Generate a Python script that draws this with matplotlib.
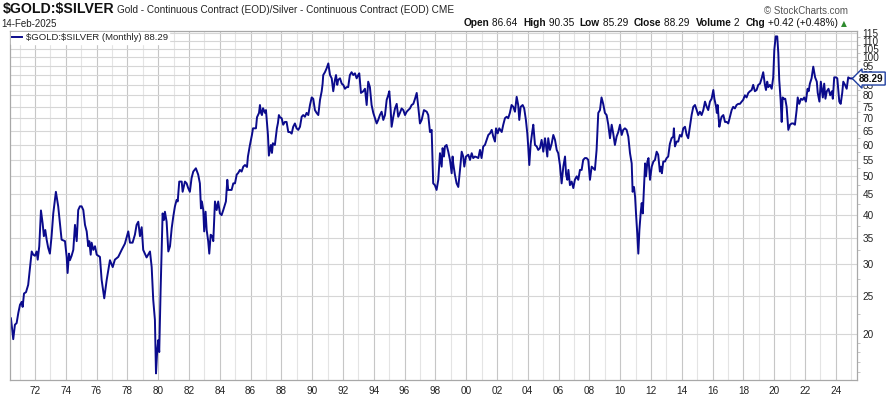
import matplotlib
matplotlib.use("Agg")
import matplotlib.pyplot as plt
from matplotlib.ticker import FixedLocator, FixedFormatter, NullFormatter
from matplotlib.transforms import blended_transform_factory

plt.rcParams['font.family'] = ['Liberation Sans', 'DejaVu Sans']

# ---------------- data (decimal year, gold/silver ratio) ----------------
dates = [
    1970.44, 1970.59, 1970.70, 1970.81, 1970.92, 1971.03, 1971.14, 1971.20, 1971.29, 1971.42,
    1971.56, 1971.68, 1971.79, 1971.89, 1972.00, 1972.11, 1972.18, 1972.28, 1972.39, 1972.50,
    1972.58, 1972.67, 1972.76, 1972.86, 1972.97, 1973.08, 1973.19, 1973.36, 1973.51, 1973.62,
    1973.73, 1973.95, 1974.06, 1974.12, 1974.21, 1974.27, 1974.38, 1974.49, 1974.60, 1974.71,
    1974.81, 1974.92, 1975.03, 1975.14, 1975.25, 1975.36, 1975.46, 1975.53, 1975.62, 1975.68,
    1975.79, 1975.90, 1976.01, 1976.22, 1976.33, 1976.50, 1976.66, 1976.87, 1977.05, 1977.19,
    1977.41, 1977.63, 1977.84, 1978.06, 1978.17, 1978.34, 1978.49, 1978.60, 1978.71, 1978.82,
    1978.93, 1979.03, 1979.25, 1979.47, 1979.58, 1979.68, 1979.79, 1979.86, 1979.94, 1980.01,
    1980.07, 1980.16, 1980.29, 1980.38, 1980.44, 1980.55, 1980.66, 1980.77, 1980.88, 1980.98,
    1981.09, 1981.20, 1981.27, 1981.37, 1981.53, 1981.59, 1981.74, 1981.85, 1981.95, 1982.06,
    1982.17, 1982.28, 1982.45, 1982.60, 1982.71, 1982.78, 1982.84, 1982.93, 1982.99, 1983.08,
    1983.15, 1983.25, 1983.32, 1983.41, 1983.51, 1983.58, 1983.69, 1983.80, 1983.90, 1984.01,
    1984.12, 1984.23, 1984.40, 1984.49, 1984.55, 1984.77, 1984.88, 1984.99, 1985.10, 1985.20,
    1985.31, 1985.42, 1985.53, 1985.64, 1985.77, 1985.83, 1985.96, 1986.09, 1986.16, 1986.35,
    1986.42, 1986.55, 1986.61, 1986.68, 1986.74, 1986.81, 1986.94, 1987.00, 1987.06, 1987.13,
    1987.19, 1987.32, 1987.39, 1987.45, 1987.58, 1987.71, 1987.78, 1987.84, 1987.91, 1988.02,
    1988.12, 1988.23, 1988.34, 1988.45, 1988.56, 1988.67, 1988.77, 1988.88, 1988.99, 1989.10,
    1989.21, 1989.32, 1989.42, 1989.53, 1989.64, 1989.75, 1989.86, 1989.97, 1990.07, 1990.18,
    1990.29, 1990.40, 1990.51, 1990.62, 1990.68, 1990.72, 1990.83, 1990.94, 1991.05, 1991.16,
    1991.27, 1991.37, 1991.48, 1991.55, 1991.63, 1991.69, 1991.81, 1991.92, 1992.02, 1992.13,
    1992.24, 1992.34, 1992.45, 1992.56, 1992.67, 1992.78, 1992.89, 1992.99, 1993.06, 1993.17,
    1993.32, 1993.43, 1993.54, 1993.64, 1993.75, 1993.86, 1993.97, 1994.08, 1994.19, 1994.29,
    1994.40, 1994.51, 1994.62, 1994.73, 1994.84, 1994.94, 1995.01, 1995.10, 1995.16, 1995.27,
    1995.38, 1995.49, 1995.59, 1995.70, 1995.81, 1995.92, 1996.03, 1996.14, 1996.24, 1996.35,
    1996.46, 1996.57, 1996.68, 1996.79, 1996.89, 1997.00, 1997.11, 1997.26, 1997.44, 1997.54,
    1997.65, 1997.76, 1997.86, 1997.97, 1998.08, 1998.19, 1998.30, 1998.41, 1998.47, 1998.56,
    1998.62, 1998.73, 1998.84, 1998.95, 1999.06, 1999.12, 1999.16, 1999.27, 1999.38, 1999.49,
    1999.60, 1999.71, 1999.81, 1999.88, 1999.99, 2000.14, 2000.25, 2000.36, 2000.46, 2000.57,
    2000.68, 2000.79, 2000.90, 2001.00, 2001.11, 2001.22, 2001.33, 2001.44, 2001.55, 2001.66,
    2001.76, 2001.87, 2001.94, 2002.05, 2002.15, 2002.31, 2002.41, 2002.52, 2002.63, 2002.73,
    2002.84, 2002.95, 2003.06, 2003.17, 2003.28, 2003.38, 2003.45, 2003.54, 2003.67, 2003.77,
    2003.88, 2003.97, 2004.03, 2004.10, 2004.19, 2004.29, 2004.36, 2004.47, 2004.58, 2004.68,
    2004.79, 2004.90, 2005.01, 2005.12, 2005.18, 2005.27, 2005.33, 2005.44, 2005.55, 2005.66,
    2005.77, 2005.88, 2005.98, 2006.09, 2006.20, 2006.31, 2006.42, 2006.49, 2006.57, 2006.64,
    2006.74, 2006.85, 2006.96, 2007.06, 2007.18, 2007.28, 2007.39, 2007.50, 2007.60, 2007.71,
    2007.82, 2007.93, 2008.04, 2008.15, 2008.25, 2008.36, 2008.47, 2008.58, 2008.69, 2008.79,
    2008.90, 2009.01, 2009.12, 2009.23, 2009.34, 2009.45, 2009.55, 2009.66, 2009.77, 2009.88,
    2009.99, 2010.10, 2010.20, 2010.31, 2010.42, 2010.53, 2010.64, 2010.75, 2010.81, 2010.90,
    2010.97, 2011.03, 2011.11, 2011.18, 2011.25, 2011.34, 2011.40, 2011.47, 2011.55, 2011.62,
    2011.68, 2011.77, 2011.84, 2011.94, 2012.05, 2012.16, 2012.26, 2012.37, 2012.47, 2012.58,
    2012.65, 2012.71, 2012.80, 2012.91, 2013.02, 2013.12, 2013.23, 2013.34, 2013.45, 2013.49,
    2013.56, 2013.67, 2013.77, 2013.88, 2013.99, 2014.10, 2014.21, 2014.32, 2014.42, 2014.53,
    2014.64, 2014.75, 2014.86, 2014.97, 2015.07, 2015.18, 2015.29, 2015.40, 2015.51, 2015.62,
    2015.72, 2015.83, 2015.94, 2016.05, 2016.12, 2016.23, 2016.28, 2016.33, 2016.44, 2016.53,
    2016.59, 2016.70, 2016.81, 2016.92, 2017.02, 2017.13, 2017.24, 2017.34, 2017.45, 2017.56,
    2017.67, 2017.78, 2017.89, 2017.99, 2018.10, 2018.21, 2018.32, 2018.43, 2018.54, 2018.64,
    2018.75, 2018.86, 2018.97, 2019.08, 2019.19, 2019.29, 2019.40, 2019.47, 2019.55, 2019.62,
    2019.73, 2019.84, 2019.94, 2020.01, 2020.10, 2020.20, 2020.27, 2020.33, 2020.42, 2020.49,
    2020.55, 2020.64, 2020.72, 2020.81, 2020.92, 2021.03, 2021.14, 2021.24, 2021.35, 2021.46,
    2021.53, 2021.63, 2021.74, 2021.85, 2021.95, 2022.06, 2022.17, 2022.24, 2022.32, 2022.43,
    2022.54, 2022.66, 2022.77, 2022.83, 2022.94, 2023.03, 2023.16, 2023.25, 2023.33, 2023.42,
    2023.53, 2023.64, 2023.75, 2023.81, 2023.90, 2024.01, 2024.10, 2024.23, 2024.32, 2024.42,
    2024.49, 2024.60, 2024.71, 2024.81, 2024.91, 2025.12,
]

ratio = [
    21.9, 19.4, 21.1, 21.3, 22.6, 23.7, 24.1, 23.4, 25.3, 25.5,
    26.6, 29.5, 32.3, 31.7, 31.5, 32.3, 30.8, 33.3, 41.0, 38.0,
    35.3, 36.6, 34.6, 33.0, 31.9, 35.3, 40.3, 45.7, 42.0, 38.0,
    34.6, 34.3, 31.3, 28.5, 31.9, 30.7, 31.5, 32.6, 37.7, 34.3,
    41.1, 42.0, 42.0, 41.1, 37.7, 36.3, 33.3, 34.3, 31.7, 34.0,
    32.6, 33.3, 31.7, 31.3, 27.4, 24.6, 27.4, 30.7, 29.5, 30.8,
    31.3, 32.6, 33.8, 36.3, 34.0, 34.0, 35.6, 37.7, 38.4, 35.3,
    37.2, 32.6, 31.2, 32.3, 29.5, 24.4, 21.7, 15.9, 18.2, 19.3,
    18.0, 25.8, 40.3, 38.8, 40.7, 38.4, 32.3, 33.3, 37.0, 39.5,
    42.0, 43.6, 43.2, 48.5, 48.5, 45.7, 48.5, 48.0, 46.7, 45.7,
    49.5, 51.4, 52.4, 50.5, 48.0, 41.5, 43.2, 41.1, 36.3, 40.7,
    36.6, 34.3, 31.9, 35.6, 35.3, 34.3, 43.2, 41.1, 43.2, 40.3,
    39.9, 41.1, 43.2, 49.0, 46.2, 46.2, 48.0, 48.0, 50.5, 51.0,
    51.9, 51.4, 52.9, 53.4, 52.8, 56.1, 60.0, 63.6, 66.1, 66.1,
    70.5, 72.3, 75.7, 72.3, 71.4, 74.3, 72.3, 73.5, 68.6, 63.6,
    56.4, 60.0, 57.3, 60.6, 60.0, 66.1, 68.2, 71.4, 70.5, 70.1,
    67.5, 68.6, 68.6, 64.7, 64.7, 64.1, 66.7, 68.0, 66.1, 65.5,
    66.7, 70.7, 71.4, 70.7, 72.3, 71.4, 75.7, 79.1, 78.5, 73.5,
    72.3, 71.4, 78.0, 82.0, 85.7, 90.1, 91.6, 93.7, 96.4, 90.1,
    88.4, 82.0, 87.6, 90.1, 85.1, 87.6, 88.4, 85.7, 85.1, 83.2,
    84.0, 84.0, 90.1, 91.6, 90.1, 91.0, 88.4, 90.1, 91.0, 81.2,
    82.0, 83.2, 75.7, 86.7, 84.0, 75.7, 72.3, 70.1, 68.0, 69.4,
    71.4, 72.8, 69.4, 71.4, 78.0, 80.1, 82.0, 73.5, 66.7, 70.7,
    74.2, 76.2, 70.7, 72.3, 74.2, 73.5, 71.4, 72.8, 73.5, 74.2,
    75.7, 76.2, 78.5, 81.2, 74.9, 68.0, 69.4, 73.5, 72.8, 71.4,
    64.7, 65.5, 48.0, 47.5, 46.2, 49.0, 57.2, 52.9, 58.9, 56.1,
    59.5, 60.0, 57.7, 55.0, 50.9, 56.1, 53.9, 50.5, 48.0, 47.0,
    51.9, 57.7, 56.1, 52.9, 56.1, 56.7, 55.0, 57.2, 55.6, 56.1,
    55.9, 55.6, 58.3, 55.6, 59.5, 60.0, 61.8, 63.6, 64.2, 65.5,
    63.0, 61.2, 66.1, 64.2, 66.1, 64.7, 67.5, 70.1, 70.7, 70.1,
    72.3, 75.7, 74.9, 72.8, 79.4, 75.7, 69.4, 74.9, 75.7, 74.2,
    69.4, 64.2, 59.5, 53.4, 60.4, 64.7, 67.5, 60.0, 59.5, 58.3,
    58.9, 61.8, 57.7, 62.4, 60.0, 56.1, 62.4, 58.3, 60.4, 63.6,
    61.8, 58.3, 57.2, 53.4, 48.0, 52.9, 56.1, 50.5, 49.0, 51.9,
    47.5, 48.5, 46.7, 49.0, 50.0, 49.0, 51.9, 51.9, 55.0, 55.6,
    55.6, 55.0, 49.0, 52.9, 52.4, 51.9, 58.3, 72.3, 73.5, 79.1,
    76.2, 72.3, 71.4, 67.5, 62.4, 67.5, 64.2, 60.0, 63.0, 64.7,
    67.5, 63.6, 65.5, 66.1, 65.5, 63.0, 57.2, 53.9, 45.7, 47.0,
    44.4, 40.3, 35.9, 31.9, 36.6, 40.7, 42.8, 40.3, 47.0, 53.9,
    50.0, 54.5, 55.6, 49.0, 52.9, 54.5, 55.0, 57.7, 56.7, 51.4,
    52.9, 50.9, 54.5, 54.5, 55.6, 56.1, 60.4, 62.4, 63.0, 66.1,
    59.5, 61.2, 61.2, 63.6, 63.0, 66.1, 66.7, 63.6, 62.4, 66.7,
    71.4, 74.9, 75.7, 73.5, 71.4, 72.8, 71.4, 73.5, 77.2, 74.9,
    73.5, 77.2, 78.5, 82.6, 78.5, 74.9, 72.3, 75.7, 66.7, 69.4,
    70.7, 71.4, 68.6, 68.6, 68.0, 70.7, 73.5, 74.9, 74.2, 75.7,
    76.2, 76.2, 77.2, 78.0, 80.1, 79.1, 81.2, 82.0, 82.6, 85.1,
    82.0, 82.6, 85.1, 85.7, 88.4, 91.6, 85.1, 82.6, 86.7, 84.0,
    85.1, 83.2, 88.9, 104.2, 112.8, 112.8, 102.4, 87.6, 78.0, 68.6,
    79.1, 78.5, 78.5, 74.9, 65.5, 67.5, 68.0, 68.0, 67.5, 73.5,
    79.1, 76.2, 78.5, 78.0, 79.1, 77.2, 83.2, 82.0, 85.7, 88.4,
    94.6, 88.9, 86.7, 81.2, 77.2, 86.7, 79.1, 85.7, 78.5, 82.0,
    83.2, 80.1, 82.0, 78.5, 88.9, 88.9, 88.4, 77.2, 76.2, 81.2,
    86.7, 85.1, 83.2, 88.9, 88.4, 88.29,
]

x_tick_years = list(range(1972, 2025, 2))
x_tick_labels = ["%02d" % (y % 100) for y in x_tick_years]
x_minor_years = list(range(1971, 2026, 2))
y_ticks = [20, 25, 30, 35, 40, 45, 50, 55, 60, 65, 70, 75, 80, 85, 90, 95, 100, 105, 110, 115]
y_minor = [16, 17, 18, 19, 22.5, 27.5, 32.5, 37.5, 42.5, 47.5, 52.5, 57.5, 62.5, 67.5,
           72.5, 77.5, 82.5, 87.5, 92.5, 97.5, 102.5, 107.5, 112.5]
last_close = 88.29

# ---------------- figure ----------------
W, H = 887, 397
fig = plt.figure(figsize=(W / 100, H / 100), dpi=100)
fig.patch.set_facecolor('white')


def fx(px):
    return px / W


def fy(py):
    return 1 - py / H


ax = fig.add_axes([fx(10), fy(380), (857 - 10) / W, (380 - 31) / H])
ax.plot(dates, ratio, color='#0b0b8c', lw=1.4, solid_joinstyle='round',
        label='\\$GOLD:\\$SILVER (Monthly) 88.29')

ax.set_yscale('log')
ax.set_ylim(15.3, 116.4)
ax.set_xlim(1970.38, 2025.38)

ax.yaxis.tick_right()
ax.yaxis.set_major_locator(FixedLocator(y_ticks))
ax.yaxis.set_major_formatter(FixedFormatter([str(v) for v in y_ticks]))
ax.yaxis.set_minor_locator(FixedLocator(y_minor))
ax.yaxis.set_minor_formatter(NullFormatter())
ax.tick_params(axis='y', which='major', length=0, pad=4, labelsize=7.2,
               labelcolor='#222222')
ax.tick_params(axis='y', which='minor', length=2, width=0.6, color='#bbbbbb')

ax.xaxis.set_major_locator(FixedLocator(x_tick_years))
ax.xaxis.set_major_formatter(FixedFormatter(x_tick_labels))
ax.xaxis.set_minor_locator(FixedLocator(x_minor_years))
ax.tick_params(axis='x', which='both', length=0, pad=4, labelsize=7.2,
               labelcolor='#222222')

ax.grid(which='major', axis='x', color='#c6c6c6', lw=0.8)
ax.grid(which='minor', axis='x', color='#e4e4e4', lw=0.8)
ax.grid(which='major', axis='y', color='#d6d6d6', lw=0.8)
ax.set_axisbelow(True)
for s in ax.spines.values():
    s.set_color('#a8a8a8')
    s.set_linewidth(0.9)

leg = ax.legend(loc='upper left', frameon=True, fancybox=False, framealpha=1,
                edgecolor='white', facecolor='white', fontsize=6.8,
                borderaxespad=0.1, borderpad=0.15, handlelength=1.0,
                handletextpad=0.4)
for t in leg.get_texts():
    t.set_color('#222222')

# price label on right axis
trans = blended_transform_factory(ax.transAxes, ax.transData)
ax.text(1.0026, last_close, '88.29', transform=trans, ha='left', va='center',
        fontsize=7.1, fontweight='bold', color='#111111', clip_on=False,
        bbox=dict(boxstyle='larrow,pad=0.15', fc='white', ec='#1f3fa0', lw=1.0))

# ---------------- header texts ----------------
fig.text(fx(3), fy(9.5), '\\$GOLD:\\$SILVER', fontsize=10.2, fontweight='bold',
         ha='left', va='center', color='#111111')
fig.text(fx(117), fy(9.8),
         'Gold - Continuous Contract (EOD)/Silver - Continuous Contract (EOD) CME',
         fontsize=7.2, ha='left', va='center', color='#222222')
fig.text(fx(848), fy(11), '\u00a9 StockCharts.com', fontsize=7.0, ha='right',
         va='center', color='#555555')
fig.text(fx(1), fy(24), '14-Feb-2025', fontsize=7.0, ha='left', va='center',
         color='#222222')

pieces = [('Open', True), (' 86.64  ', False), ('High', True), (' 90.35  ', False),
          ('Low', True), (' 85.29  ', False), ('Close', True), (' 88.29  ', False),
          ('Volume', True), (' 2  ', False), ('Chg', True),
          (' +0.42 (+0.48%) ', False)]
renderer = fig.canvas.get_renderer()
objs = []
widths = []
for txt, bold in pieces:
    t = fig.text(0, fy(23.5), txt, fontsize=7.3,
                 fontweight='bold' if bold else 'normal', ha='left',
                 va='center', color='#111111')
    objs.append(t)
    widths.append(t.get_window_extent(renderer).width)
tri = fig.text(0, fy(23.2), '\u25b2', fontsize=5.5, ha='left', va='center',
               color='#2e8b2e', family=['DejaVu Sans'])
tri_w = tri.get_window_extent(renderer).width
right_end = 847
x = right_end - tri_w - sum(widths)
for t, w in zip(objs, widths):
    t.set_x(x / W)
    x += w
tri.set_x(x / W)

fig.savefig('out.png', dpi=100, facecolor='white')
